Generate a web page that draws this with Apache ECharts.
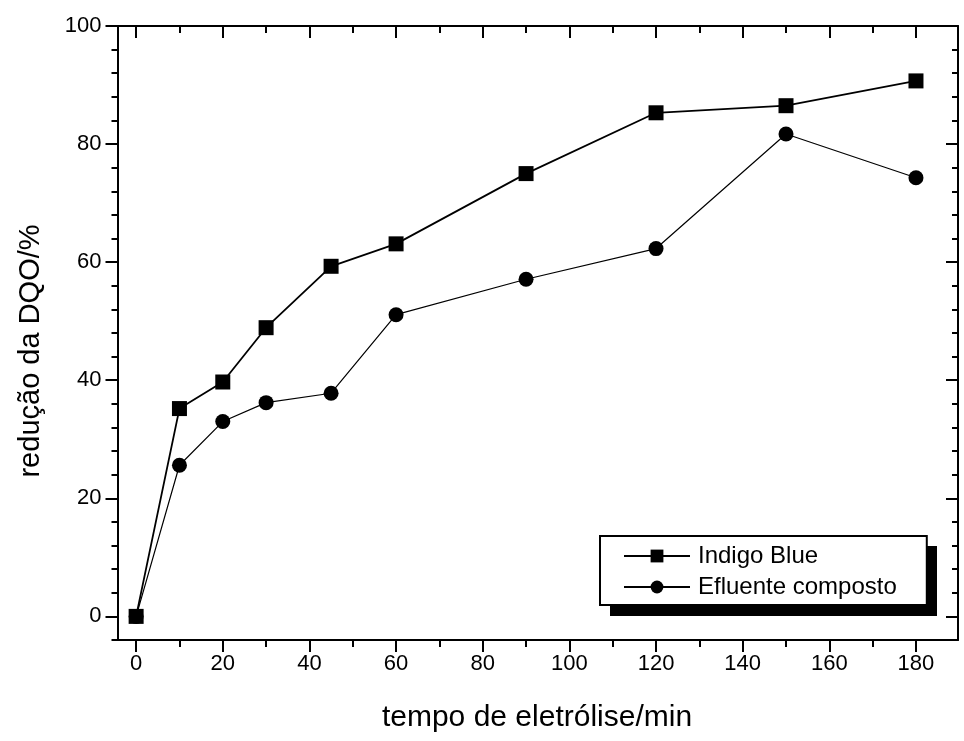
<!DOCTYPE html>
<html>
<head>
<meta charset="utf-8">
<script src="https://cdn.jsdelivr.net/npm/echarts@6/dist/echarts.min.js"></script>
<style>
html,body{margin:0;padding:0;background:#fff;}
#main{width:964px;height:741px;}
</style>
</head>
<body>
<div id="main"></div>
<script>
// Data
const times = [0, 10, 20, 30, 45, 60, 90, 120, 150, 180];
const indigoBlue = [0, 35.2, 39.7, 48.9, 59.3, 63.1, 75.0, 85.3, 86.5, 90.7];
const efluenteComposto = [0, 25.6, 33.0, 36.2, 37.8, 51.1, 57.1, 62.3, 81.7, 74.3];
const seriesNames = ['Indigo Blue', 'Efluente composto'];

// Tick values
const xMajorTicks = [0, 20, 40, 60, 80, 100, 120, 140, 160, 180];
const xMinorTicks = [10, 30, 50, 70, 90, 110, 130, 150, 170];
const yMajorTicks = [0, 20, 40, 60, 80, 100];
const yMinorTicks = [-4, 4, 8, 12, 16, 24, 28, 32, 36, 44, 48, 52, 56, 64, 68, 72, 76, 84, 88, 92, 96];

const xTitle = 'tempo de eletrólise/min';
const yTitle = 'redução da DQO/%';

const FONT = '"Liberation Sans", Arial, Helvetica, sans-serif';
const X_MIN = -4.3, X_MAX = 189.7, Y_MIN = -4, Y_MAX = 100;

function pairs(xs, ys) { return xs.map((x, i) => [x, ys[i]]); }

function xAxisDef(position, ticks, len, inside, showLabel, showLine) {
  return {
    type: 'value', position: position, min: X_MIN, max: X_MAX,
    splitLine: { show: false },
    axisLine: { show: showLine, onZero: false, lineStyle: { color: '#000', width: 2 } },
    axisTick: { show: true, customValues: ticks, length: len, inside: inside, lineStyle: { color: '#000', width: 2 } },
    axisLabel: showLabel ? { show: true, customValues: ticks, margin: 13, color: '#000', fontSize: 22, fontFamily: FONT } : { show: false }
  };
}
function yAxisDef(position, ticks, len, inside, showLabel, showLine) {
  return {
    type: 'value', position: position, min: Y_MIN, max: Y_MAX,
    splitLine: { show: false },
    axisLine: { show: showLine, onZero: false, lineStyle: { color: '#000', width: 2 } },
    axisTick: { show: true, customValues: ticks, length: len, inside: inside, lineStyle: { color: '#000', width: 2 } },
    axisLabel: showLabel ? { show: true, customValues: ticks, margin: 16, color: '#000', fontSize: 22, fontFamily: FONT } : { show: false }
  };
}

const chart = echarts.init(document.getElementById('main'), null, { renderer: 'canvas' });
chart.setOption({
  animation: false,
  backgroundColor: '#fff',
  grid: { left: 117.5, right: 6, top: 26, bottom: 101, containLabel: false },
  xAxis: [
    xAxisDef('bottom', xMajorTicks, 12, false, true, true),
    xAxisDef('bottom', xMinorTicks, 7, false, false, false),
    xAxisDef('top', xMajorTicks, 12, true, false, true),
    xAxisDef('top', xMinorTicks, 7, true, false, false)
  ],
  yAxis: [
    yAxisDef('left', yMajorTicks, 12, false, true, true),
    yAxisDef('left', yMinorTicks, 6, false, false, false),
    yAxisDef('right', yMajorTicks, 12, true, false, true),
    yAxisDef('right', yMinorTicks, 6, true, false, false)
  ],
  legend: {
    orient: 'vertical',
    left: 600, top: 536,
    padding: [8, 30, 6, 23],
    itemWidth: 66, itemHeight: 16, itemGap: 7,
    backgroundColor: '#fff',
    borderColor: '#000', borderWidth: 2, borderRadius: 0,
    textStyle: { color: '#000', fontSize: 24, fontFamily: FONT, padding: [0, 0, 0, 3] },
    data: seriesNames
  },
  graphic: [
    // drop shadow behind the legend box
    { type: 'rect', z: 1, shape: { x: 610, y: 546, width: 327, height: 70 }, style: { fill: '#000' } },
    { type: 'text', x: 537, y: 718,
      style: { text: xTitle, textAlign: 'center', textVerticalAlign: 'middle', fill: '#000', font: '30px ' + FONT } },
    { type: 'text', x: 31, y: 351, rotation: Math.PI / 2,
      style: { text: yTitle, textAlign: 'center', textVerticalAlign: 'middle', fill: '#000', font: '29px ' + FONT } }
  ],
  series: [
    {
      name: seriesNames[0], type: 'line', xAxisIndex: 0, yAxisIndex: 0,
      data: pairs(times, indigoBlue),
      symbol: 'rect', symbolSize: 15,
      itemStyle: { color: '#000' },
      lineStyle: { color: '#000', width: 1.8 }
    },
    {
      name: seriesNames[1], type: 'line', xAxisIndex: 0, yAxisIndex: 0,
      data: pairs(times, efluenteComposto),
      symbol: 'circle', symbolSize: 15,
      itemStyle: { color: '#000' },
      lineStyle: { color: '#000', width: 1.2 }
    }
  ]
});
</script>
</body>
</html>
